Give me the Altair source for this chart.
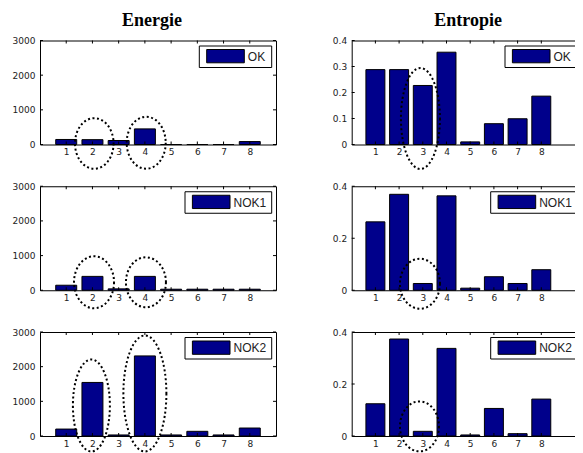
import altair as alt
import pandas as pd

# ---- data ----
cats = [1, 2, 3, 4, 5, 6, 7, 8]
series_labels = ["OK", "NOK1", "NOK2"]

energie_ok = [145, 140, 115, 450, 0, 0, 0, 85]
energie_nok1 = [145, 400, 40, 400, 30, 30, 30, 30]
energie_nok2 = [200, 1545, 30, 2310, 30, 135, 30, 230]

entropie_ok = [0.288, 0.288, 0.227, 0.355, 0.010, 0.080, 0.099, 0.186]
entropie_nok1 = [0.263, 0.369, 0.026, 0.363, 0.008, 0.052, 0.026, 0.079]
entropie_nok2 = [0.124, 0.373, 0.018, 0.337, 0.004, 0.106, 0.009, 0.142]

energie_ticks = [0, 1000, 2000, 3000]
entropie_ticks_top = [0, 0.1, 0.2, 0.3, 0.4]
entropie_ticks = [0, 0.2, 0.4]

# dotted ellipse annotations: (x centre, y centre in data units)
ell_energie = [[(2.07, 30), (4.05, 50)],
               [(2.06, 230), (4.04, 230)],
               [(1.96, 880), (4.0, 1226)]]
ell_entropie = [[(2.90, 0.10)], [(2.88, 0.025)], [(2.86, 0.037)]]
# ellipse radii in pixels (style)
rad_energie = [[(19.3, 25.3), (19.5, 26)], [(20, 26), (20, 25)], [(18.5, 46), (21.5, 58)]]
rad_entropie = [[(19.5, 50.5)], [(20, 25)], [(19.5, 25)]]

NAVY = "#00008B"
LABEL_COLOR = "#222222"
H = 104


def ell_path(ratio):
    a = ratio
    k = 0.5523
    f = lambda v: f"{v:.4f}"
    return (f"M{f(a)},0 C{f(a)},{f(k)} {f(k*a)},1 0,1 "
            f"C{f(-k*a)},1 {f(-a)},{f(k)} {f(-a)},0 "
            f"C{f(-a)},{f(-k)} {f(-k*a)},-1 0,-1 "
            f"C{f(k*a)},-1 {f(a)},{f(-k)} {f(a)},0 Z")


def panel(values, label, ymax, yticks, yfmt, w, xmax, ells, rads, legend_shift=0.0,
          title=None, title_x=None):
    xs = alt.Scale(domain=[0, xmax], nice=False, zero=False)
    ys = alt.Scale(domain=[0, ymax], nice=False, zero=True)
    xaxis = alt.Axis(values=cats, format="d", title=None, ticks=False, domain=False,
                     grid=False, labelPadding=3, labelFont="DejaVu Sans", labelFontSize=9,
                     labelColor=LABEL_COLOR, labelFlush=False, labelOverlap=False)
    yaxis = alt.Axis(values=yticks, format=yfmt, title=None, ticks=False, domain=False,
                     grid=False, labelPadding=5, labelFont="DejaVu Sans", labelFontSize=9,
                     labelColor=LABEL_COLOR, labelFlush=False, labelOverlap=False)

    df = pd.DataFrame({"k": cats, "v": values})
    bars = alt.Chart(df).transform_calculate(
        x0="datum.k - 0.4", x1="datum.k + 0.4"
    ).mark_bar(fill=NAVY, stroke="black", strokeWidth=1).encode(
        x=alt.X("x0:Q", scale=xs, axis=xaxis),
        x2="x1:Q",
        y=alt.Y("v:Q", scale=ys, axis=yaxis),
        y2=alt.datum(0),
    )

    xt = alt.Chart(pd.DataFrame({"t": cats}))
    yt = alt.Chart(pd.DataFrame({"t": yticks}))
    rule = dict(color="black", strokeWidth=1)
    xt_b = xt.mark_rule(**rule).encode(x=alt.X("t:Q", scale=xs, axis=xaxis),
                                       y=alt.value(H), y2=alt.value(H - 3))
    xt_t = xt.mark_rule(**rule).encode(x=alt.X("t:Q", scale=xs, axis=xaxis),
                                       y=alt.value(0), y2=alt.value(3))
    yt_l = yt.mark_rule(**rule).encode(y=alt.Y("t:Q", scale=ys, axis=yaxis),
                                       x=alt.value(0), x2=alt.value(3))
    yt_r = yt.mark_rule(**rule).encode(y=alt.Y("t:Q", scale=ys, axis=yaxis),
                                       x=alt.value(w - 3), x2=alt.value(w))

    bw = 72.4 if len(label) == 2 else 86.7
    xr = w - 4.3 - legend_shift
    xl = xr - bw
    ldf = pd.DataFrame({"label": [label]})
    box = alt.Chart(ldf).mark_rect(fill="white", stroke="black", strokeWidth=1).encode(
        x=alt.value(xl), x2=alt.value(xr), y=alt.value(5.5), y2=alt.value(27))
    sw = alt.Chart(ldf).mark_rect(fill=NAVY, stroke="black", strokeWidth=1).encode(
        x=alt.value(xl + 7.4), x2=alt.value(xl + 45), y=alt.value(9), y2=alt.value(22.3))
    txt = alt.Chart(ldf).mark_text(align="left", baseline="middle", font="Liberation Sans",
                                   fontSize=12, color=LABEL_COLOR).encode(
        x=alt.value(xl + 48.5), y=alt.value(16.3), text="label:N")

    edf = pd.DataFrame({
        "ex": [e[0] for e in ells],
        "ey": [e[1] for e in ells],
        "shp": [ell_path(r[0] / r[1]) for r in rads],
        "sz": [(2 * r[1]) ** 2 for r in rads],
    })
    ell = alt.Chart(edf).mark_point(filled=False, color="black", stroke="black", strokeWidth=2,
                                    strokeDash=[2, 2.5], opacity=1).encode(
        x=alt.X("ex:Q", scale=xs, axis=xaxis),
        y=alt.Y("ey:Q", scale=ys, axis=yaxis),
        shape=alt.Shape("shp:N", scale=None, legend=None),
        size=alt.Size("sz:Q", scale=None, legend=None),
    )

    layers = [bars, xt_b, xt_t, yt_l, yt_r, box, sw, txt, ell]
    if title:
        tl = alt.Chart(pd.DataFrame({"title": [title]})).mark_text(
            font="Liberation Serif", fontWeight="bold", fontSize=18, align="center",
            baseline="alphabetic", color="black").encode(
            x=alt.value(title_x), y=alt.value(-14.5), text="title:N")
        layers.append(tl)
    return alt.layer(*layers).properties(width=w, height=H)


en_vals = [energie_ok, energie_nok1, energie_nok2]
et_vals = [entropie_ok, entropie_nok1, entropie_nok2]
panels = []
for i in range(3):
    panels.append(panel(en_vals[i], series_labels[i], 3000, energie_ticks, "d", 236, 9,
                        ell_energie[i], rad_energie[i],
                        title="Energie" if i == 0 else None, title_x=112))
    panels.append(panel(et_vals[i], series_labels[i], 0.4,
                        entropie_ticks_top if i == 0 else entropie_ticks, "~g", 237, 10,
                        ell_entropie[i], rad_entropie[i], legend_shift=7,
                        title="Entropie" if i == 0 else None, title_x=116.5))

PAD_L, PAD_T = 32, 32.5
SVG_W, SVG_H = 567, 445
chart = alt.concat(*panels, columns=2, spacing={"row": 41.75, "column": 75.7},
                   bounds="flush").properties(
    autosize=alt.AutoSizeParams(type="none"),
    padding={"left": PAD_L, "top": PAD_T, "right": SVG_W - PAD_L, "bottom": SVG_H - PAD_T},
).configure_view(stroke="black", strokeWidth=1)

chart.save("out.html", embed_options={"renderer": "svg", "actions": False})
